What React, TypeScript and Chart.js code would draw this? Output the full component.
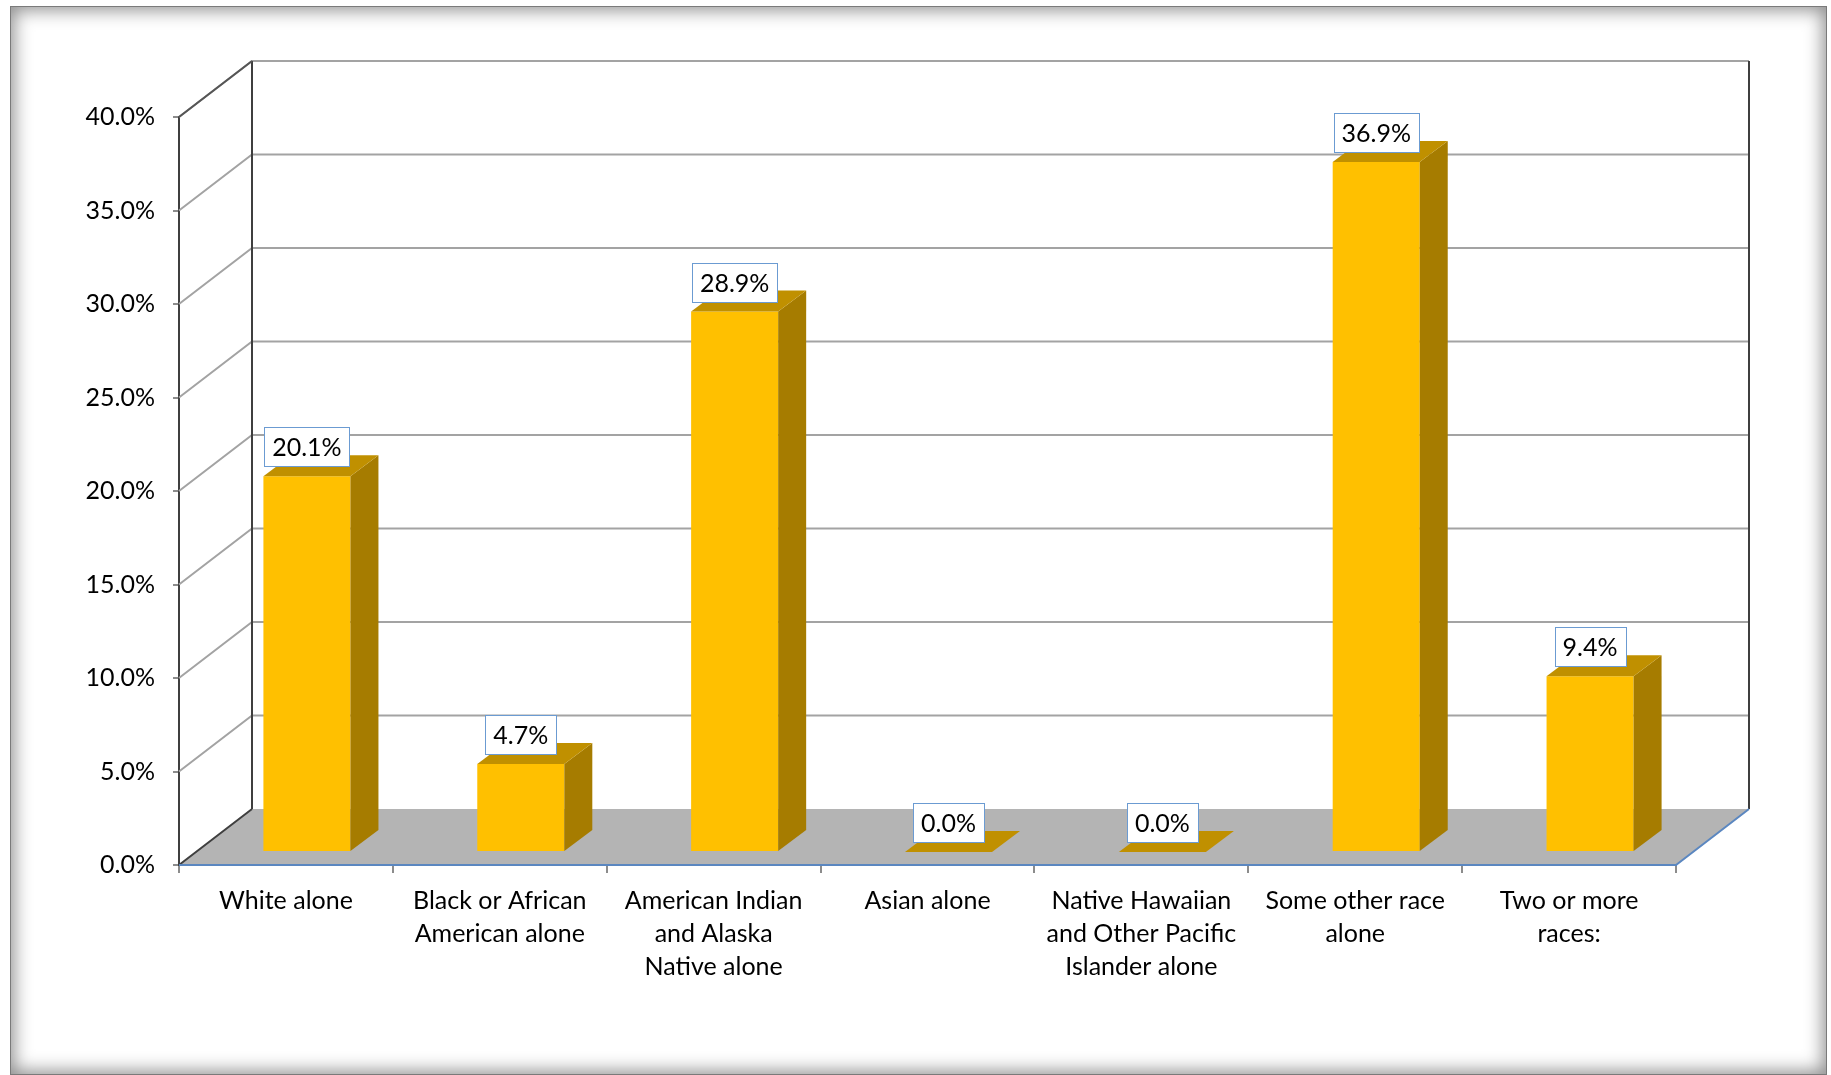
import React, { useEffect, useRef } from 'react';
import { Chart, registerables } from 'chart.js';

Chart.register(...registerables);

// ---- data ----
const categories: string[][] = [
  ['White alone'],
  ['Black or African', 'American alone'],
  ['American Indian', 'and Alaska', 'Native alone'],
  ['Asian alone'],
  ['Native Hawaiian', 'and Other Pacific', 'Islander alone'],
  ['Some other race', 'alone'],
  ['Two or more', 'races:'],
];
const values: number[] = [20.1, 4.7, 28.9, 0.0, 0.0, 36.9, 9.4];
const yMin = 0;
const yMax = 40;
const yStep = 5;

// ---- style ----
const FONT = 'Lato, "Open Sans", sans-serif';
const FONT_SIZE = 25;
const WALL_DX = 73;
const WALL_DY = -56;
const BAR_DX = 21;
const BAR_DY = -13;
const SIDE_DX = 28;
const SIDE_DY = -21;
const FRONT = '#FFC000';
const SIDE = '#A67C00';
const TOP = '#C09000';
const GRID = '#a3a3a3';
const AXIS = '#3f3f3f';
const EDGE_BLUE = '#5b87c0';

const threeD = {
  id: 'threeD',
  beforeDatasetsDraw(chart: any) {
    const { ctx, chartArea: a, scales } = chart;
    const y = scales.y;
    const L = a.left;
    const R = a.right;
    const B = y.getPixelForValue(yMin);
    const T = y.getPixelForValue(yMax);
    ctx.save();
    // floor
    ctx.fillStyle = '#b4b4b4';
    ctx.beginPath();
    ctx.moveTo(L, B);
    ctx.lineTo(R, B);
    ctx.lineTo(R + WALL_DX, B + WALL_DY);
    ctx.lineTo(L + WALL_DX, B + WALL_DY);
    ctx.closePath();
    ctx.fill();
    // grid lines on left and back walls
    ctx.lineWidth = 2;
    ctx.strokeStyle = GRID;
    y.ticks.forEach((t: any) => {
      if (t.value === yMin) return;
      const py = y.getPixelForValue(t.value);
      ctx.beginPath();
      ctx.moveTo(L, py);
      ctx.lineTo(L + WALL_DX, py + WALL_DY);
      ctx.lineTo(R + WALL_DX, py + WALL_DY);
      ctx.stroke();
    });
    // wall edges
    ctx.strokeStyle = AXIS;
    ctx.beginPath();
    ctx.moveTo(L + WALL_DX, T + WALL_DY);
    ctx.lineTo(L + WALL_DX, B + WALL_DY);
    ctx.moveTo(R + WALL_DX, T + WALL_DY);
    ctx.lineTo(R + WALL_DX, B + WALL_DY);
    ctx.moveTo(L, B);
    ctx.lineTo(L + WALL_DX, B + WALL_DY);
    ctx.stroke();
    ctx.strokeStyle = '#555555';
    ctx.beginPath();
    ctx.moveTo(L, T);
    ctx.lineTo(L + WALL_DX, T + WALL_DY);
    ctx.stroke();
    // front floor edges
    ctx.strokeStyle = EDGE_BLUE;
    ctx.beginPath();
    ctx.moveTo(L, B);
    ctx.lineTo(R, B);
    ctx.lineTo(R + WALL_DX, B + WALL_DY);
    ctx.stroke();
    ctx.restore();
    // shift bar fronts back into the depth
    ctx.save();
    ctx.translate(BAR_DX, BAR_DY);
  },
  afterDatasetsDraw(chart: any) {
    const ctx = chart.ctx;
    ctx.restore();
    const meta = chart.getDatasetMeta(0);
    const boxes: any[] = [];
    meta.data.forEach((bar: any, i: number) => {
      const p = bar.getProps(['x', 'y', 'base', 'width'], true);
      const l = p.x - p.width / 2 + BAR_DX;
      const r = p.x + p.width / 2 + BAR_DX;
      const t = p.y + BAR_DY;
      const b = p.base + BAR_DY;
      ctx.save();
      if (b - t > 0.5) {
        ctx.fillStyle = SIDE;
        ctx.beginPath();
        ctx.moveTo(r, t);
        ctx.lineTo(r + SIDE_DX, t + SIDE_DY);
        ctx.lineTo(r + SIDE_DX, b + SIDE_DY);
        ctx.lineTo(r, b);
        ctx.closePath();
        ctx.fill();
      }
      ctx.fillStyle = TOP;
      ctx.beginPath();
      ctx.moveTo(l, t);
      ctx.lineTo(r, t);
      ctx.lineTo(r + SIDE_DX, t + SIDE_DY);
      ctx.lineTo(l + SIDE_DX, t + SIDE_DY);
      ctx.closePath();
      ctx.fill();
      ctx.restore();
      boxes.push({ cx: (l + r) / 2, top: t, text: values[i].toFixed(1) + '%' });
    });
    ctx.save();
    ctx.font = `${FONT_SIZE}px ${FONT}`;
    boxes.forEach((bx) => {
      const w = Math.round(ctx.measureText(bx.text).width + 16);
      const h = 39;
      const x0 = Math.round(bx.cx - w / 2) + 0.5;
      const y0 = Math.round(bx.top - 10 - h) + 0.5;
      ctx.fillStyle = '#ffffff';
      ctx.fillRect(x0, y0, w, h);
      ctx.strokeStyle = '#6b9bd2';
      ctx.lineWidth = 1;
      ctx.strokeRect(x0, y0, w, h);
      ctx.fillStyle = '#000000';
      ctx.textAlign = 'center';
      ctx.textBaseline = 'middle';
      ctx.fillText(bx.text, bx.cx, y0 + h / 2 + 1);
    });
    ctx.restore();
  },
};

export default function App() {
  const ref = useRef<HTMLCanvasElement | null>(null);

  useEffect(() => {
    if (!ref.current) return;
    const chart = new Chart(ref.current, {
      type: 'bar',
      data: {
        labels: categories,
        datasets: [
          {
            data: values,
            backgroundColor: FRONT,
            borderWidth: 0,
            categoryPercentage: 1,
            barPercentage: 0.407,
            clip: false as any,
          },
        ],
      },
      options: {
        responsive: false,
        animation: false,
        devicePixelRatio: 1,
        layout: { padding: { left: 0, right: 155, top: 117, bottom: 60 } },
        plugins: {
          legend: { display: false },
          tooltip: { enabled: false },
          title: { display: false },
        },
        scales: {
          x: {
            offset: true,
            grid: {
              offset: true,
              drawOnChartArea: false,
              color: '#8c8c8c',
              lineWidth: 2,
              tickLength: 8,
            },
            border: { color: EDGE_BLUE, width: 2 },
            ticks: {
              color: '#000',
              font: { family: FONT, size: FONT_SIZE, lineHeight: 1.32 },
              padding: 11,
              maxRotation: 0,
              minRotation: 0,
              autoSkip: false,
            },
            afterFit: (s: any) => {
              s.height = 150;
            },
          },
          y: {
            min: yMin,
            max: yMax,
            grid: {
              drawOnChartArea: false,
              color: '#8c8c8c',
              lineWidth: 2,
              tickLength: 6,
            },
            border: { color: AXIS, width: 2 },
            ticks: {
              stepSize: yStep,
              color: '#000',
              font: { family: FONT, size: FONT_SIZE },
              padding: 18,
              callback: (v: any) => Number(v).toFixed(1) + '%',
            },
            afterFit: (s: any) => {
              s.width = 179;
            },
          },
        },
      },
      plugins: [threeD],
    });
    return () => chart.destroy();
  }, []);

  return (
    <div
      style={{
        position: 'absolute',
        left: 0,
        top: 0,
        width: 1831,
        height: 1075,
        background: '#ffffff',
        overflow: 'hidden',
      }}
    >
      <div
        style={{
          position: 'absolute',
          left: 10,
          top: 6,
          width: 1817,
          height: 1069,
          boxSizing: 'border-box',
          border: '1px solid #7a7a7a',
          boxShadow: 'inset 0 0 18px 3px rgba(0,0,0,0.45)',
          background: '#ffffff',
        }}
      />
      <canvas
        ref={ref}
        width={1831}
        height={1075}
        style={{ position: 'absolute', left: 0, top: 0, width: 1831, height: 1075 }}
      />
    </div>
  );
}
